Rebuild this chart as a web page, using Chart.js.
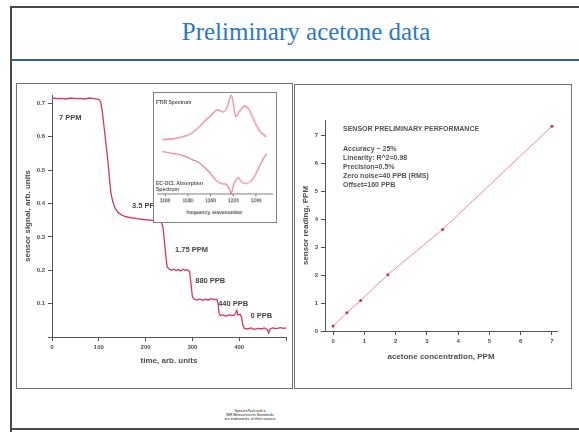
<!DOCTYPE html>
<html>
<head>
<meta charset="utf-8">
<script src="https://cdn.jsdelivr.net/npm/chart.js@4.4.1/dist/chart.umd.min.js"></script>
<style>
  html, body { margin: 0; padding: 0; background: #fff; }
  #slide { position: relative; width: 579px; height: 432px; overflow: hidden; background: #fff;
           font-family: 'Liberation Sans', Arial, sans-serif; }
  .abs { position: absolute; }
  .rule { position: absolute; background: #4a4a4a; }
  #title { left: 0; width: 612px; top: 18px; text-align: center; color: #2b78c4;
           font-family: 'Liberation Serif', 'Times New Roman', serif; font-size: 25px; }
  .panel { position: absolute; border: 1px solid #707070; box-sizing: border-box; }
  canvas { position: absolute; }
  #inset { background: #fff; border: 1px solid #808080; box-sizing: border-box; }
  .note { position: absolute; font-weight: bold; color: #555; white-space: nowrap; }
  .perf { position: absolute; left: 343px; font-size: 7px; color: #555; font-weight: bold; white-space: nowrap;
          font-family: 'Liberation Sans Narrow', 'Liberation Sans', Arial, sans-serif; }
  .foot { position: absolute; left: 150px; width: 200px; text-align: center; font-size: 3.5px; color: #666; font-weight: bold; }
</style>
</head>
<body>
<div id="slide">
  <div class="rule" style="left:10px;top:6px;width:569px;height:2px;"></div>
  <div class="rule" style="left:10px;top:6px;width:2px;height:426px;"></div>
  <div class="rule" style="left:10px;top:428px;width:569px;height:2px;"></div>
  <div class="rule" style="left:12px;top:59px;width:567px;height:2px;background:#2a62ab;"></div>
  <div id="title" class="abs">Preliminary acetone data</div>

  <div class="panel" style="left:16px;top:83px;width:277px;height:306px;"></div>
  <div class="panel" style="left:294px;top:84px;width:278px;height:305px;"></div>

  <canvas id="timeChart" style="left:14px;top:86px;width:276px;height:300px;" width="276" height="300"></canvas>
  <canvas id="inset" style="left:153px;top:92px;width:124px;height:131px;" width="124" height="131"></canvas>
  <div class="note" style="left:156px;top:99px;font-size:5px;">FTIR Spectrum</div>
  <div class="note" style="left:156px;top:180px;font-size:5px;line-height:6px;">EC-OCL Absorption<br>Spectrum</div>

  <canvas id="perfChart" style="left:294px;top:86px;width:276px;height:300px;" width="276" height="300"></canvas>
  <div class="perf" style="top:125px;">SENSOR PRELIMINARY PERFORMANCE</div>
  <div class="perf" style="top:145px;">Accuracy ~ 25%</div>
  <div class="perf" style="top:154px;">Linearity: R^2=0.98</div>
  <div class="perf" style="top:163px;">Precision=0.5%</div>
  <div class="perf" style="top:172px;">Zero noise=40 PPB (RMS)</div>
  <div class="perf" style="top:181px;">Offset=160 PPB</div>

  <div class="foot" style="top:409px;">SpectraTech and a</div>
  <div class="foot" style="top:413px;">NIR Measurement Standards</div>
  <div class="foot" style="top:417px;">are trademarks of their owners</div>
</div>

<script>
// step response
const timeValues = [0, 5, 10, 20, 30, 40, 50, 60, 70, 80, 90, 100, 104, 108, 112, 116, 120, 123, 126, 130,
  135, 140, 148, 156, 165, 175, 185, 195, 205, 215, 225, 233, 237, 240, 243, 246, 250, 255, 260, 265,
  270, 275, 280, 285, 290, 294, 297, 300, 304, 310, 316, 322, 328, 334, 340, 346, 352, 355, 357, 360,
  366, 372, 378, 384, 390, 395, 397, 402, 405, 408, 411, 418, 425, 432, 440, 447, 454, 460, 463, 466,
  472, 480, 488, 495, 500];
const signalValues = [0.713, 0.716, 0.714, 0.715, 0.713, 0.716, 0.714, 0.715, 0.713, 0.716, 0.714, 0.712, 0.705, 0.67, 0.62, 0.57, 0.52, 0.47, 0.43, 0.405,
  0.385, 0.375, 0.366, 0.361, 0.358, 0.356, 0.354, 0.352, 0.351, 0.349, 0.348, 0.345, 0.33, 0.29, 0.245, 0.21, 0.204, 0.2, 0.203, 0.199,
  0.202, 0.198, 0.203, 0.2, 0.201, 0.196, 0.16, 0.12, 0.113, 0.111, 0.114, 0.11, 0.113, 0.111, 0.115, 0.112, 0.113, 0.1, 0.07, 0.064,
  0.066, 0.062, 0.067, 0.064, 0.066, 0.08, 0.066, 0.068, 0.06, 0.035, 0.026, 0.024, 0.027, 0.023, 0.026, 0.024, 0.027, 0.022, 0.012, 0.024,
  0.027, 0.025, 0.028, 0.026, 0.027];

const levelNames   = ['7 PPM', '3.5 PPM', '1.75 PPM', '880 PPB', '440 PPB', '0 PPB'];
const levelAtTime  = [15, 171, 263, 306, 355, 424];
const levelAtValue = [0.657, 0.392, 0.26, 0.167, 0.098, 0.062];

// inset spectra
const ftirFreq   = [1158, 1168, 1176, 1184, 1190, 1196, 1200, 1206, 1211, 1215, 1218, 1220, 1222, 1225, 1230, 1234, 1238, 1243, 1249];
const ftirValues = [54, 55, 57, 61, 67, 74, 78, 84, 82, 88, 99, 90, 77, 82, 88, 84, 74, 63, 57];
const oclFreq    = [1158, 1168, 1176, 1184, 1190, 1196, 1200, 1205, 1210, 1214, 1217, 1218, 1220, 1222, 1224, 1227, 1230, 1235, 1239, 1244, 1249];
const oclValues  = [42, 40, 38, 34, 31, 25, 20, 13, 10, 9, 3, 0, 8, 13, 16, 12, 10, 12, 18, 30, 40];

// sensor reading vs concentration
const concentration = [0, 0.44, 0.88, 1.75, 3.5, 7];
const reading       = [0.18, 0.65, 1.09, 2.01, 3.63, 7.32];

const tickFont  = { family: "'Liberation Sans Narrow', 'Liberation Sans', Arial", size: 6, weight: 'bold' };
const titleFont = { family: "'Liberation Sans Narrow', 'Liberation Sans', Arial", size: 8, weight: 'bold' };
const inkGrey = '#4d4d4d';

function toPoints(xs, ys) { return xs.map((x, i) => ({ x, y: ys[i] })); }
function fixWidth(w)  { return s => { s.width = w; }; }
function fixHeight(h) { return s => { s.height = h; }; }

/** Step labels next to each plateau */
const levelLabels = {
  id: 'levelLabels',
  afterDatasetsDraw(chart) {
    const { ctx, scales: { x, y } } = chart;
    ctx.save();
    ctx.font = "bold 7.5px 'Liberation Sans Narrow', 'Liberation Sans', Arial";
    ctx.fillStyle = '#444';
    ctx.textBaseline = 'middle';
    levelNames.forEach((txt, i) => {
      ctx.fillText(txt, x.getPixelForValue(levelAtTime[i]), y.getPixelForValue(levelAtValue[i]));
    });
    ctx.restore();
  }
};

Chart.defaults.animation = false;
Chart.defaults.responsive = false;
Chart.defaults.plugins.legend.display = false;
Chart.defaults.plugins.tooltip.enabled = false;

new Chart(document.getElementById('timeChart'), {
  type: 'line',
  data: { datasets: [{ data: toPoints(timeValues, signalValues), borderColor: '#d4385f', borderWidth: 1.3, pointRadius: 0, tension: 0 }] },
  options: {
    layout: { padding: { top: 9, right: 4, left: 0, bottom: 0 } },
    scales: {
      x: {
        type: 'linear', min: 0, max: 500,
        afterFit: fixHeight(49),
        ticks: { stepSize: 100, font: tickFont, color: inkGrey, padding: 3, callback: v => v === 500 ? '' : v },
        grid: { drawOnChartArea: false, tickLength: 4, color: '#555' },
        border: { color: '#555', width: 1 },
        title: { display: true, text: 'time, arb. units', font: titleFont, color: inkGrey, padding: { top: 0, bottom: 20 } }
      },
      y: {
        min: 0, max: 0.725,
        afterFit: fixWidth(38),
        ticks: { stepSize: 0.1, includeBounds: false, font: tickFont, color: inkGrey, padding: 3,
                 callback: v => v === 0 ? '' : v.toFixed(1) },
        grid: { drawOnChartArea: false, tickLength: 4, color: '#555' },
        border: { color: '#555', width: 1 },
        title: { display: true, text: 'sensor signal, arb. units', font: titleFont, color: inkGrey, padding: { top: 9, bottom: 0 } }
      }
    }
  },
  plugins: [levelLabels]
});

new Chart(document.getElementById('inset'), {
  type: 'line',
  data: { datasets: [
    { data: toPoints(ftirFreq, ftirValues), borderColor: '#e07a92', borderWidth: 1.2, pointRadius: 0, cubicInterpolationMode: 'monotone' },
    { data: toPoints(oclFreq, oclValues), borderColor: '#e07a92', borderWidth: 1.2, pointRadius: 0, cubicInterpolationMode: 'monotone' }
  ] },
  options: {
    layout: { padding: { top: 1, right: 4, left: 3, bottom: 0 } },
    scales: {
      x: {
        type: 'linear', min: 1153, max: 1254,
        afterFit: fixHeight(29),
        ticks: { stepSize: 20, includeBounds: false, font: { ...tickFont, size: 5 }, color: inkGrey, padding: 2,
                 callback: v => String(v) },
        grid: { drawOnChartArea: false, tickLength: 3, color: '#777' },
        border: { color: '#777', width: 1 },
        title: { display: true, text: 'frequency, wavenumber', font: { ...tickFont, size: 5 }, color: inkGrey, padding: { top: 0, bottom: 6 } }
      },
      y: { display: false, min: 0, max: 100 }
    }
  }
});

new Chart(document.getElementById('perfChart'), {
  type: 'line',
  data: { datasets: [{ data: toPoints(concentration, reading), borderColor: '#ea8aa2', borderWidth: 1,
                       pointRadius: 1.5, pointBackgroundColor: '#c2335a', pointBorderWidth: 0, tension: 0 }] },
  options: {
    layout: { padding: { top: 34, right: 13, left: 0, bottom: 0 } },
    scales: {
      x: {
        type: 'linear', min: -0.26, max: 7.16,
        afterFit: fixHeight(55),
        ticks: { stepSize: 1, includeBounds: false, font: tickFont, color: inkGrey, padding: 3 },
        grid: { drawOnChartArea: false, tickLength: 4, color: '#555' },
        border: { color: '#555', width: 1 },
        title: { display: true, text: 'acetone concentration, PPM', font: titleFont, color: inkGrey, padding: { top: 0, bottom: 24 } }
      },
      y: {
        min: 0, max: 7.54,
        afterFit: fixWidth(31),
        ticks: { stepSize: 1, includeBounds: false, font: tickFont, color: inkGrey, padding: 3 },
        grid: { drawOnChartArea: false, tickLength: 4, color: '#555' },
        border: { color: '#555', width: 1 },
        title: { display: true, text: 'sensor reading, PPM', font: titleFont, color: inkGrey, padding: { top: 7, bottom: 0 } }
      }
    }
  }
});
</script>
</body>
</html>
